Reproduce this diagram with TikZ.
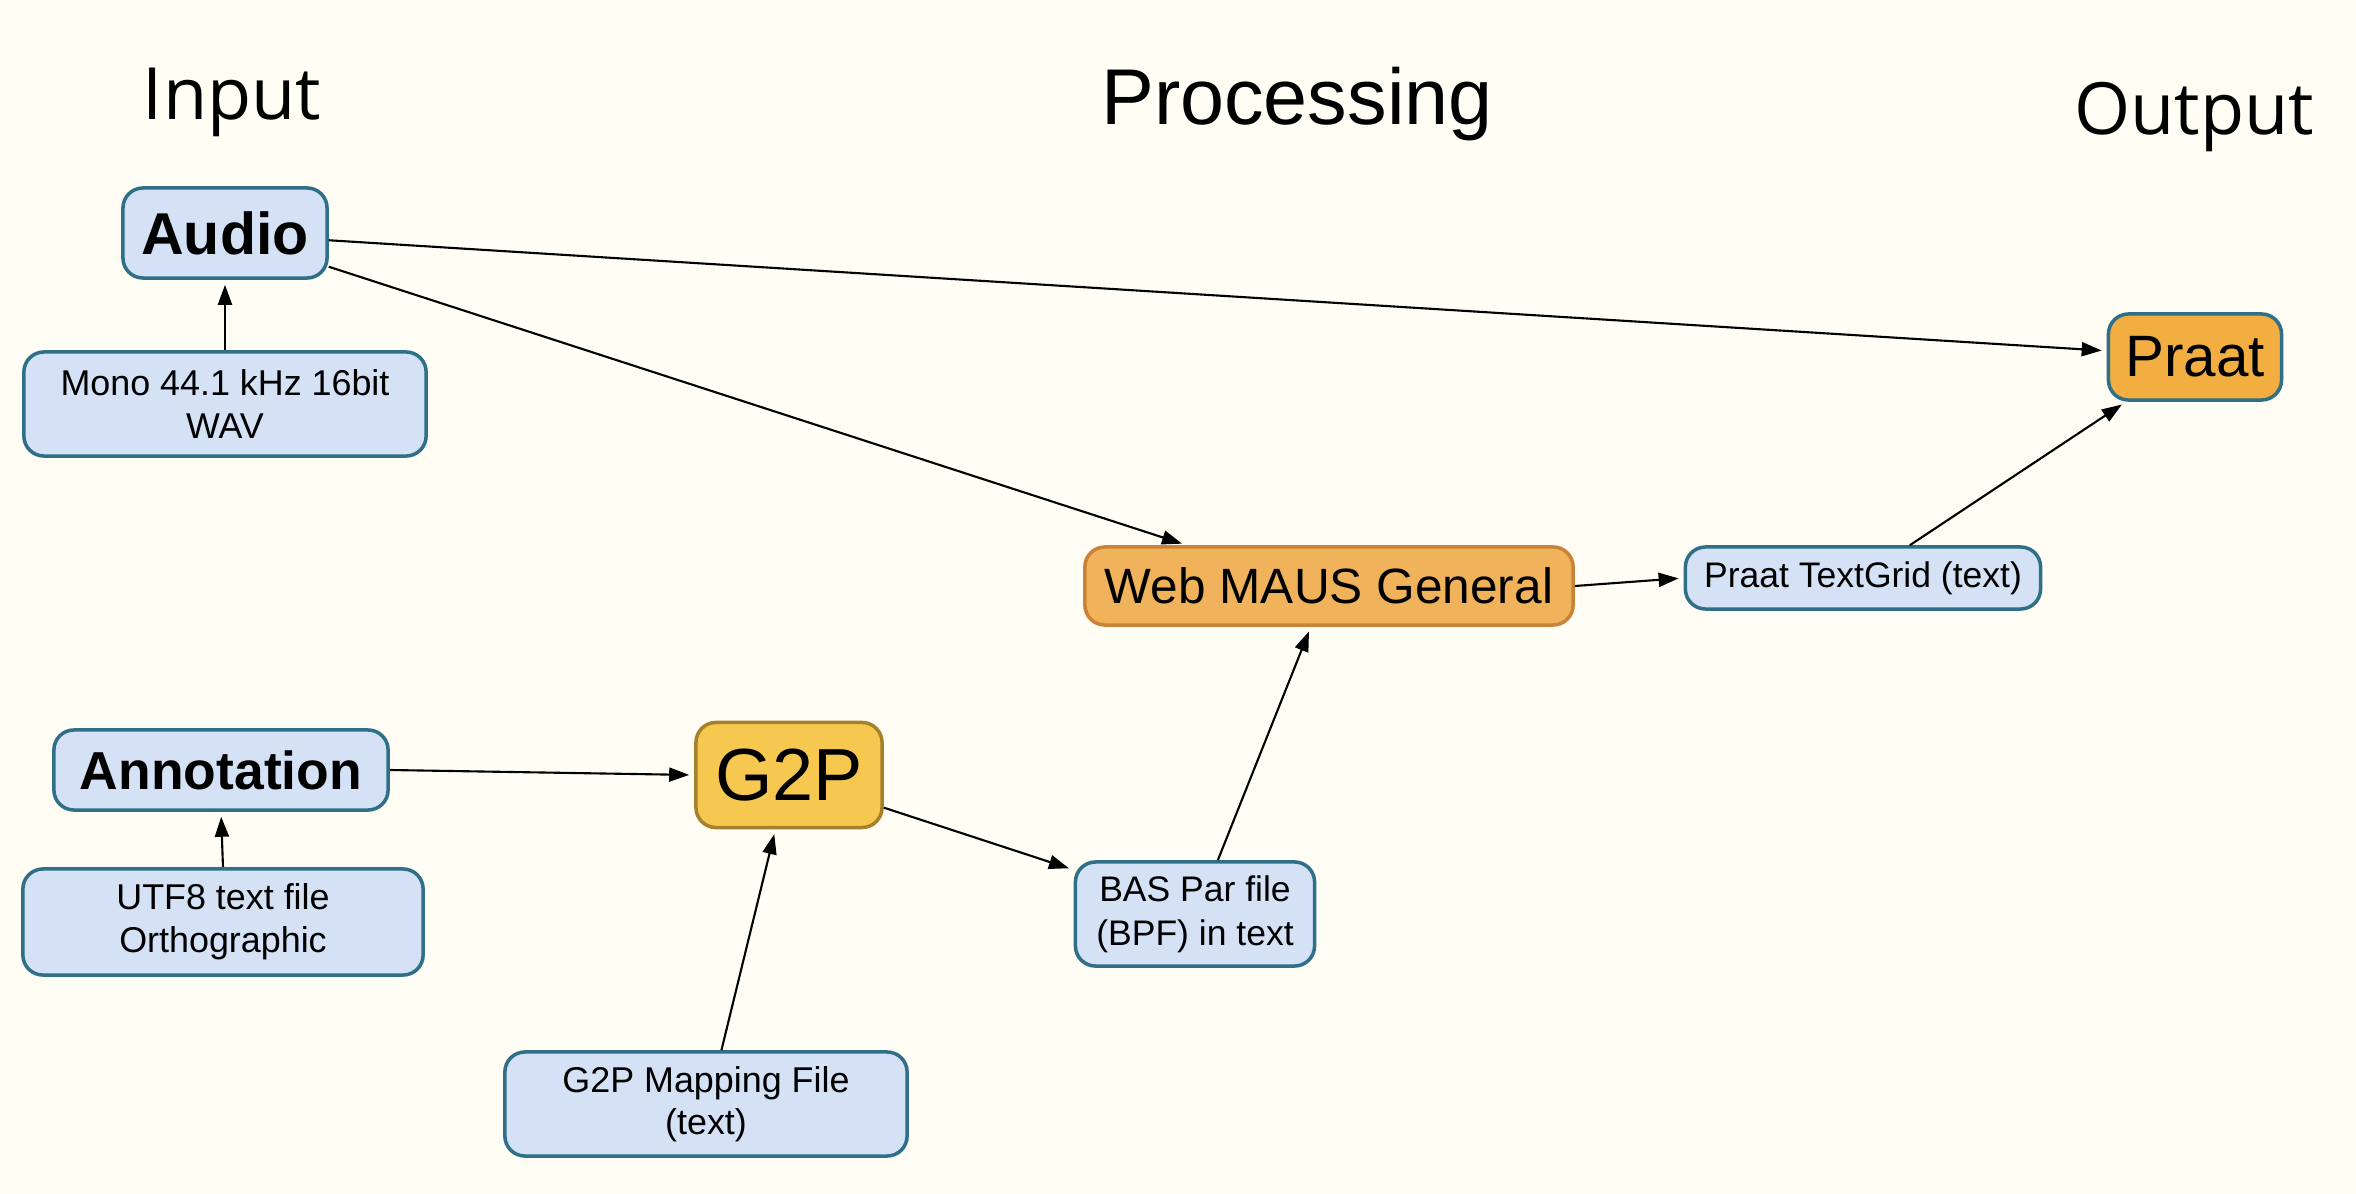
\documentclass[tikz,border=0pt]{standalone}
\usepackage{fontspec}
\setmainfont{Liberation Sans}
\newfontfamily\titlefont{Open Sans}
\definecolor{PaperColor}{RGB}{255,253,244}
\definecolor{FileFill}{RGB}{213,226,246}
\definecolor{FileLine}{RGB}{47,111,135}
\definecolor{MausFill}{RGB}{240,178,90}
\definecolor{MausLine}{RGB}{201,131,56}
\definecolor{GtpFill}{RGB}{247,200,80}
\definecolor{GtpLine}{RGB}{166,129,45}
\definecolor{PraatFill}{RGB}{243,174,66}
\usetikzlibrary{arrows.meta}
\tikzstyle{arrow} = [line width=0.6pt, black, -{Triangle[length=0.2cm,width=0.14cm]}, shorten >=0.05cm]
\tikzstyle{filebox} = [rectangle, rounded corners=0.2cm, draw=FileLine, line width=1pt, fill=FileFill, align=center, inner sep=0pt]
\tikzstyle{heading} = [anchor=base, inner sep=0pt]

\begin{document}
\begin{tikzpicture}[x=0.01cm, y=-0.01cm]
                % Canvas
                \fill[PaperColor] (0,0) rectangle (2356,1194);
                \useasboundingbox (0,0) rectangle (2356,1194);

                % Column headings
                \node[heading, font=\titlefont\fontsize{20.5}{24}\selectfont] (inhead) at (232,120) {Input};
                \node[heading, font=\fontsize{22.5}{26}\selectfont] (prochead) at (1297,125) {Processing};
                \node[heading, font=\titlefont\fontsize{20.5}{24}\selectfont] (outhead) at (2194,135) {Output};

                % Input side
                \node[filebox, minimum width=2.04cm, minimum height=0.9cm, font=\bfseries\fontsize{16.8}{20}\selectfont] (audio) at (225,233) {Audio};
                \node[filebox, minimum width=4.02cm, minimum height=1.04cm, font=\fontsize{10.2}{12}\selectfont] (mono) at (225,404) {Mono 44.1 kHz 16bit\\WAV};
                \node[filebox, minimum width=3.34cm, minimum height=0.8cm, font=\bfseries\fontsize{15.2}{18}\selectfont] (annot) at (221,770) {Annotation};
                \node[filebox, minimum width=4.0cm, minimum height=1.06cm, font=\fontsize{10.2}{12.2}\selectfont] (utf8) at (223,922) {UTF8 text file\\Orthographic};

                % Processing
                \node[filebox, draw=GtpLine, fill=GtpFill, minimum width=1.86cm, minimum height=1.05cm, font=\fontsize{21}{25}\selectfont] (g2p) at (789,775) {G2P};
                \node[filebox, minimum width=4.02cm, minimum height=1.04cm, font=\fontsize{10.2}{12}\selectfont] (g2pmap) at (706,1104) {G2P Mapping File\\(text)};
                \node[filebox, minimum width=2.39cm, minimum height=1.04cm, font=\fontsize{10.1}{12.5}\selectfont] (bas) at (1195,914) {BAS Par file\\(BPF) in text};
                \node[filebox, draw=MausLine, fill=MausFill, minimum width=4.88cm, minimum height=0.78cm, font=\fontsize{14.1}{17}\selectfont] (maus) at (1329,586) {Web MAUS General};

                % Output side
                \node[filebox, minimum width=3.55cm, minimum height=0.62cm, font=\fontsize{10.1}{12}\selectfont] (tgrid) at (1863,578) {Praat TextGrid (text)};
                \node[filebox, fill=PraatFill, minimum width=1.73cm, minimum height=0.86cm, font=\fontsize{16.6}{20}\selectfont] (praat) at (2195,357) {Praat};

                % Arrows
                \draw[arrow] (mono.north) -- (audio.south);
                \draw[arrow] (audio.-4) -- (praat.176);
                \draw[arrow] (audio.-18) -- (maus.164);
                \draw[arrow] (utf8.north) -- (annot.south);
                \draw[arrow] (annot.east) -- (g2p.west);
                \draw[arrow] (g2pmap.74) -- (g2p.-104);
                \draw[arrow] (g2p.-19) -- (bas.160);
                \draw[arrow] (bas.67) -- (maus.-114);
                \draw[arrow] (maus.east) -- (tgrid.west);
                \draw[arrow] (tgrid.35) -- (praat.-147);
            \end{tikzpicture}
\end{document}
